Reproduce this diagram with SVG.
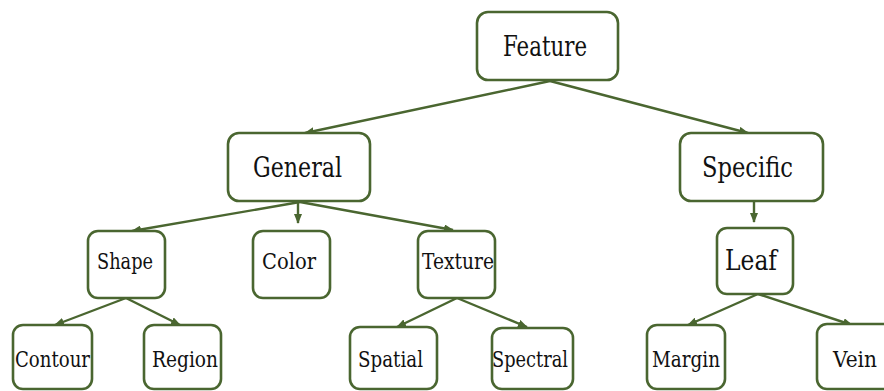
<svg xmlns="http://www.w3.org/2000/svg" width="884" height="391" viewBox="0 0 884 391">
  <defs>
    <marker id="arrow" markerUnits="userSpaceOnUse" markerWidth="10" markerHeight="8" refX="9" refY="4" orient="auto">
      <path d="M0,0 L10,4 L0,8 z" fill="#4a6630"/>
    </marker>
    <style>
      .box { fill: #ffffff; stroke: #4a6630; stroke-width: 2.6; }
      .edge { fill: none; stroke: #4a6630; stroke-width: 2.4; marker-end: url(#arrow); }
      .lbl { font-family: "DejaVu Serif", serif; fill: #111111; text-anchor: middle; }
      .big { font-size: 27px; }
      .small { font-size: 22.5px; }
    </style>
  </defs>
  <rect width="884" height="391" fill="#ffffff"/>

  <!-- connectors -->
  <g id="connectors">
    <line class="edge" x1="550" y1="81" x2="305" y2="133"/>
    <line class="edge" x1="550" y1="81" x2="748" y2="133"/>
    <line class="edge" x1="300" y1="202" x2="132" y2="231"/>
    <line class="edge" x1="298" y1="202" x2="298" y2="223"/>
    <line class="edge" x1="300" y1="202" x2="453" y2="230"/>
    <line class="edge" x1="754" y1="202" x2="754" y2="222"/>
    <line class="edge" x1="126" y1="298" x2="55" y2="325"/>
    <line class="edge" x1="126" y1="298" x2="180" y2="325"/>
    <line class="edge" x1="457" y1="298" x2="397" y2="327"/>
    <line class="edge" x1="457" y1="298" x2="527" y2="327"/>
    <line class="edge" x1="758" y1="294" x2="688" y2="325"/>
    <line class="edge" x1="758" y1="294" x2="852" y2="325"/>
  </g>

  <!-- nodes -->
  <g id="feature">
    <rect class="box" x="477" y="12" width="141" height="68" rx="11"/>
    <text class="lbl big" x="545" y="56" textLength="84" lengthAdjust="spacingAndGlyphs">Feature</text>
  </g>
  <g id="general">
    <rect class="box" x="228" y="133" width="142" height="68" rx="11"/>
    <text class="lbl big" x="297.5" y="177" textLength="89" lengthAdjust="spacingAndGlyphs">General</text>
  </g>
  <g id="specific">
    <rect class="box" x="680" y="133" width="143" height="68" rx="11"/>
    <text class="lbl big" x="747.5" y="177" textLength="91" lengthAdjust="spacingAndGlyphs">Specific</text>
  </g>
  <g id="shape">
    <rect class="box" x="88" y="231" width="77" height="67" rx="10"/>
    <text class="lbl small" x="125" y="269" textLength="56" lengthAdjust="spacingAndGlyphs">Shape</text>
  </g>
  <g id="color">
    <rect class="box" x="253" y="231" width="77" height="67" rx="10"/>
    <text class="lbl small" x="289" y="269" textLength="54" lengthAdjust="spacingAndGlyphs">Color</text>
  </g>
  <g id="texture">
    <rect class="box" x="418" y="231" width="77" height="67" rx="10"/>
    <text class="lbl small" x="458" y="269" textLength="72" lengthAdjust="spacingAndGlyphs">Texture</text>
  </g>
  <g id="leaf">
    <rect class="box" x="717" y="228" width="76" height="66" rx="10"/>
    <text class="lbl big" x="751" y="270" textLength="52" lengthAdjust="spacingAndGlyphs">Leaf</text>
  </g>
  <g id="contour">
    <rect class="box" x="13" y="325" width="79" height="64" rx="10"/>
    <text class="lbl small" x="52.5" y="367" textLength="75" lengthAdjust="spacingAndGlyphs">Contour</text>
  </g>
  <g id="region">
    <rect class="box" x="144" y="325" width="77" height="64" rx="10"/>
    <text class="lbl small" x="185" y="367" textLength="66" lengthAdjust="spacingAndGlyphs">Region</text>
  </g>
  <g id="spatial">
    <rect class="box" x="350" y="327" width="87" height="62" rx="10"/>
    <text class="lbl small" x="390.5" y="367" textLength="65" lengthAdjust="spacingAndGlyphs">Spatial</text>
  </g>
  <g id="spectral">
    <rect class="box" x="492" y="328" width="81" height="61" rx="10"/>
    <text class="lbl small" x="530" y="367" textLength="76" lengthAdjust="spacingAndGlyphs">Spectral</text>
  </g>
  <g id="margin">
    <rect class="box" x="647" y="325" width="78" height="64" rx="10"/>
    <text class="lbl small" x="686" y="367" textLength="68" lengthAdjust="spacingAndGlyphs">Margin</text>
  </g>
  <g id="vein">
    <rect class="box" x="817" y="324" width="78" height="65" rx="10"/>
    <text class="lbl small" x="855" y="367" textLength="44" lengthAdjust="spacingAndGlyphs">Vein</text>
  </g>
</svg>
